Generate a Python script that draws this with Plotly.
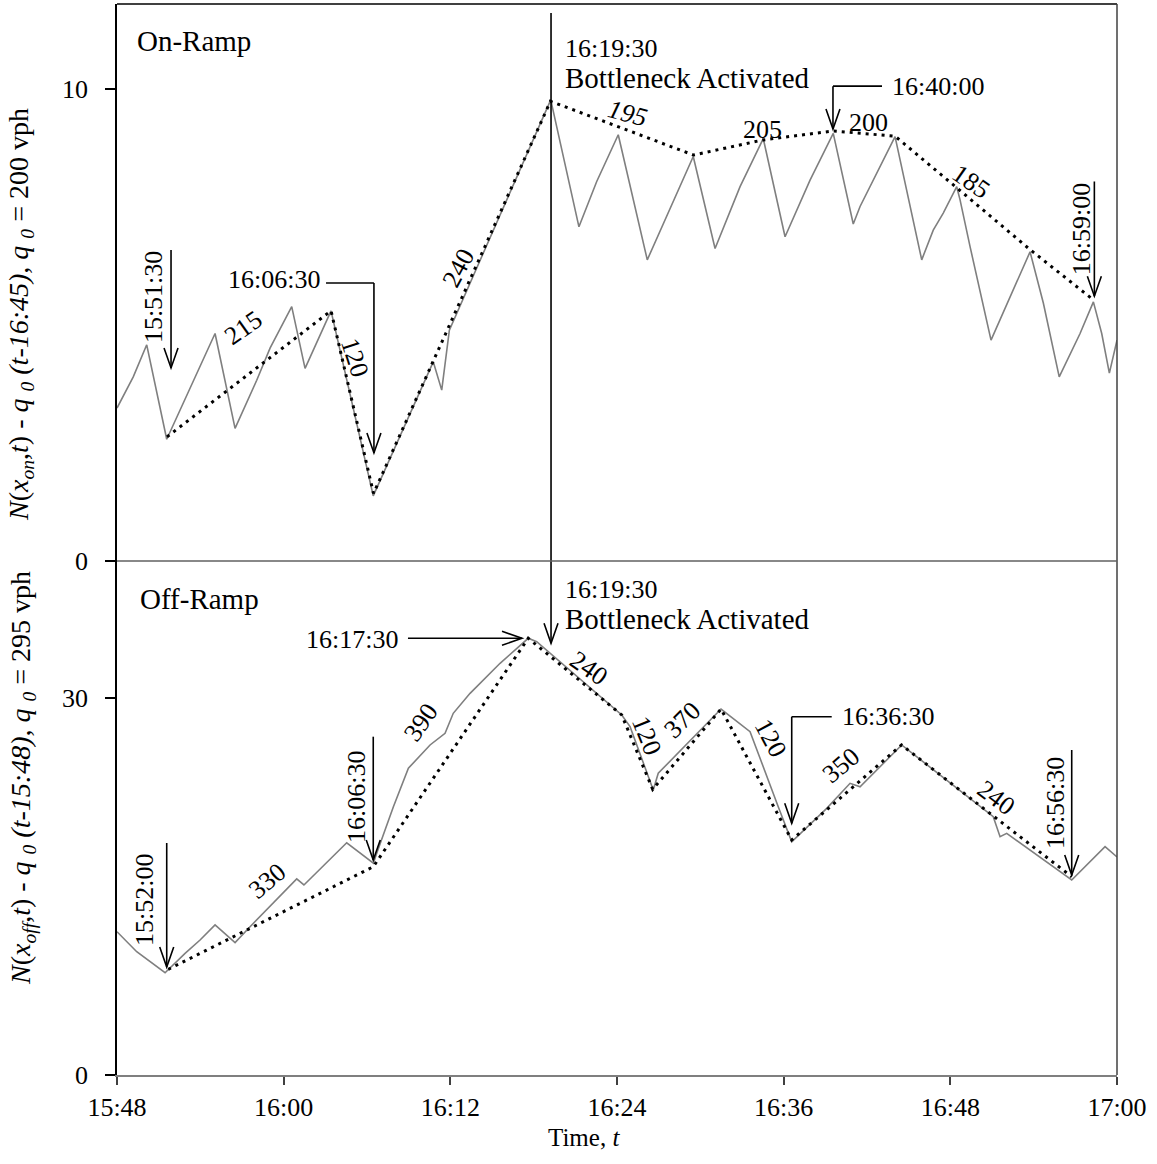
import plotly.graph_objects as go

FONT = "Liberation Serif, Times New Roman, serif"

# ---- axis ticks (x = minutes after 15:48) ----
tick_vals = [0, 12, 24, 36, 48, 60, 72]
tick_text = ["15:48", "16:00", "16:12", "16:24", "16:36", "16:48", "17:00"]

# ---- On-ramp (top panel) ----
on_gray_t = [0.0, 1.17, 2.14, 3.58, 7.06, 8.50, 10.06, 11.02, 12.58, 13.54, 15.41, 18.45,
             22.77, 23.38, 23.93, 31.23, 33.26, 34.54, 36.09, 38.18, 41.49, 43.06, 44.86,
             46.53, 48.10, 49.90, 51.57, 53.01, 53.50, 54.70, 56.02, 57.94, 58.77, 59.49,
             60.46, 60.70, 61.42, 62.93, 64.30, 65.74, 66.70, 67.84, 69.34, 70.30, 70.90,
             71.45, 72.0]
on_gray_v = [3.24, 3.90, 4.58, 2.58, 4.82, 2.81, 3.83, 4.51, 5.39, 4.08, 5.30, 1.38,
             4.22, 3.62, 4.89, 9.77, 7.08, 8.04, 9.03, 6.38, 8.57, 6.62, 7.93,
             8.95, 6.87, 8.07, 9.06, 7.14, 7.51, 8.21, 8.99, 6.38, 7.01, 7.37,
             7.93, 7.65, 6.66, 4.68, 5.60, 6.55, 5.46, 3.90, 4.82, 5.49, 4.82,
             3.98, 4.68]
on_dot_t = [3.60, 15.41, 18.47, 31.21, 41.51, 46.51, 51.55, 56.02, 60.45, 65.77, 70.31]
on_dot_v = [2.63, 5.30, 1.43, 9.74, 8.60, 8.92, 9.11, 9.00, 7.91, 6.59, 5.53]

# ---- Off-ramp (bottom panel) ----
off_gray_t = [0.0, 1.42, 3.46, 4.90, 5.98, 7.06, 8.50, 9.58, 12.94, 13.46, 16.54, 18.46,
              18.70, 19.90, 20.98, 22.54, 23.62, 24.21, 25.42, 27.58, 29.61, 30.22, 36.34,
              36.94, 38.61, 38.97, 43.49, 45.58, 47.61, 48.58, 51.10, 52.78, 53.50, 56.50,
              63.09, 63.58, 64.06, 68.74, 71.14, 72.0]
off_gray_v = [11.40, 9.81, 8.14, 9.68, 10.74, 11.94, 10.53, 11.80, 15.60, 15.12, 18.48, 16.85,
              17.64, 21.35, 24.41, 26.26, 27.19, 28.78, 30.37, 32.76, 34.75, 34.48, 28.65,
              27.72, 22.68, 24.01, 29.12, 27.32, 21.35, 18.56, 21.22, 23.21, 22.94, 26.26,
              20.55, 18.96, 19.23, 15.52, 18.17, 17.35]
off_dot_t = [3.69, 18.45, 29.61, 36.34, 38.57, 43.49, 48.58, 56.49, 68.74]
off_dot_v = [8.41, 16.57, 34.75, 28.65, 22.73, 29.12, 18.70, 26.26, 15.78]

# ---- annotation geometry (data units) ----
on_arrows = [(3.89, 6.59, 4.09), (18.50, 5.89, 2.29), (51.55, 10.06, 9.15), (70.37, 8.04, 5.61)]
on_leaders = [(15.05, 18.50, 5.89), (55.08, 51.55, 10.06)]
off_arrows = [(3.58, 18.46, 8.59), (18.45, 26.92, 17.11), (48.58, 28.51, 20.03), (68.74, 25.86, 15.91)]
off_leaders = [(51.46, 48.58, 28.51)]
off_right_arrow = (20.95, 29.16, 34.75)
bottleneck_t = 31.25
bottleneck_top_v = 11.61
bottleneck_tip_v = 34.35

# text labels: (text, t, v, panel, angle, xanchor, size)
labels = [
    ("On-Ramp", 1.30, 11.02, "y", 0, "left", 29),
    ("15:51:30", 2.59, 5.59, "y", -90, "center", 26),
    ("16:06:30", 14.76, 5.97, "y", 0, "right", 26),
    ("16:19:30", 32.11, 10.85, "y", 0, "left", 26),
    ("Bottleneck Activated", 32.11, 10.23, "y", 0, "left", 29),
    ("16:40:00", 55.66, 10.06, "y", 0, "left", 26),
    ("16:59:00", 69.41, 7.03, "y", -90, "center", 26),
    ("215", 9.14, 4.94, "y", -35, "center", 26),
    ("120", 17.14, 4.32, "y", 72, "center", 26),
    ("240", 24.62, 6.21, "y", -62, "center", 26),
    ("<i>195</i>", 36.79, 9.47, "y", 15, "center", 26),
    ("205", 46.51, 9.15, "y", 0, "center", 26),
    ("200", 54.14, 9.30, "y", 0, "center", 26),
    ("185", 61.49, 8.05, "y", 35, "center", 26),
    ("Off-Ramp", 1.51, 37.87, "y2", 0, "left", 29),
    ("16:17:30", 20.38, 34.69, "y2", 0, "right", 26),
    ("16:19:30", 32.11, 38.67, "y2", 0, "left", 26),
    ("Bottleneck Activated", 32.11, 36.29, "y2", 0, "left", 29),
    ("240", 33.98, 32.31, "y2", 35, "center", 26),
    ("120", 38.16, 27.05, "y2", 68, "center", 26),
    ("370", 40.75, 28.25, "y2", -45, "center", 26),
    ("120", 47.02, 26.82, "y2", 62, "center", 26),
    ("16:36:30", 52.06, 28.49, "y2", 0, "left", 26),
    ("350", 52.13, 24.59, "y2", -40, "center", 26),
    ("240", 63.29, 22.12, "y2", 37, "center", 26),
    ("16:56:30", 67.54, 21.64, "y2", -90, "center", 26),
    ("390", 21.89, 28.01, "y2", -55, "center", 26),
    ("16:06:30", 17.21, 22.12, "y2", -90, "center", 26),
    ("330", 10.87, 15.44, "y2", -40, "center", 26),
    ("15:52:00", 2.02, 13.93, "y2", -90, "center", 26),
]

# ---- layout constants ----
W, H = 1157, 1164
ML, MR, MT, MB = 117, 40, 4, 89
PW = W - ML - MR
PH = H - MT - MB
split = 514 / PH
X_RANGE = [0, 72]
Y1_RANGE = [0, 11.80]
Y2_RANGE = [0, 40.90]

px_per_min = PW / (X_RANGE[1] - X_RANGE[0])
px_per_u1 = PH * (1 - split) / (Y1_RANGE[1] - Y1_RANGE[0])
px_per_u2 = PH * split / (Y2_RANGE[1] - Y2_RANGE[0])
ppu = {"y": px_per_u1, "y2": px_per_u2}

fig = go.Figure()
fig.add_trace(go.Scatter(x=on_gray_t, y=on_gray_v, mode="lines", yaxis="y",
                         line=dict(color="#7f7f7f", width=1.6)))
fig.add_trace(go.Scatter(x=on_dot_t, y=on_dot_v, mode="lines", yaxis="y",
                         line=dict(color="black", width=3, dash="3px,5px")))
fig.add_trace(go.Scatter(x=off_gray_t, y=off_gray_v, mode="lines", yaxis="y2",
                         line=dict(color="#7f7f7f", width=1.6)))
fig.add_trace(go.Scatter(x=off_dot_t, y=off_dot_v, mode="lines", yaxis="y2",
                         line=dict(color="black", width=3, dash="3px,5px")))

shapes = []
LW = 1.6


def seg(x0, y0, x1, y1, yref):
    shapes.append(dict(type="line", xref="x", yref=yref, x0=x0, y0=y0, x1=x1, y1=y1,
                       line=dict(color="black", width=LW)))


def vhead(t, v, direction, yref, half=7, length=20):
    dx_h = half / px_per_min
    dx_l = length / px_per_min
    dy_h = half / ppu[yref]
    dy_l = length / ppu[yref]
    if direction == "down":
        pts = [(t - dx_h, v + dy_l), (t, v), (t + dx_h, v + dy_l)]
    else:
        pts = [(t - dx_l, v + dy_h), (t, v), (t - dx_l, v - dy_h)]
    path = "M {} {} L {} {} L {} {}".format(*[c for p in pts for c in p])
    shapes.append(dict(type="path", xref="x", yref=yref, path=path,
                       line=dict(color="black", width=LW)))


for t, v0, v1 in on_arrows:
    seg(t, v0, t, v1, "y")
    vhead(t, v1, "down", "y")
for t0, t1, v in on_leaders:
    seg(t0, v, t1, v, "y")
for t, v0, v1 in off_arrows:
    seg(t, v0, t, v1, "y2")
    vhead(t, v1, "down", "y2")
for t0, t1, v in off_leaders:
    seg(t0, v, t1, v, "y2")
t0, t1, v = off_right_arrow
seg(t0, v, t1, v, "y2")
vhead(t1, v, "right", "y2")

# bottleneck line through both panels
seg(bottleneck_t, bottleneck_top_v, bottleneck_t, Y1_RANGE[0], "y")
seg(bottleneck_t, Y2_RANGE[1], bottleneck_t, bottleneck_tip_v, "y2")
vhead(bottleneck_t, bottleneck_tip_v, "down", "y2")

# frame
shapes.append(dict(type="line", xref="paper", yref="paper", x0=0, x1=1, y0=1, y1=1,
                   line=dict(color="black", width=1.5)))
shapes.append(dict(type="line", xref="paper", yref="paper", x0=1, x1=1, y0=0, y1=1,
                   line=dict(color="#404040", width=1.5)))
shapes.append(dict(type="line", xref="paper", yref="paper", x0=0, x1=1, y0=split, y1=split,
                   line=dict(color="#606060", width=1.5)))

annotations = []
for text, t, v, yref, ang, xa, sz in labels:
    annotations.append(dict(text=text, x=t, y=v, xref="x", yref=yref, showarrow=False,
                            textangle=ang, xanchor=xa, yanchor="middle",
                            font=dict(family=FONT, size=sz, color="black")))

annotations.append(dict(
    text="<i>N</i>(<i>x<sub>on</sub></i>,<i>t</i>) - <i>q</i> <sub><i>0</i></sub> <i>(t-16:45), q</i> <sub><i>0</i></sub> = 200 vph",
    x=(21 - ML) / PW, y=(H - MB - 315) / PH, xref="paper", yref="paper", showarrow=False,
    textangle=-90, xanchor="center", yanchor="middle",
    font=dict(family=FONT, size=28, color="black")))
annotations.append(dict(
    text="<i>N</i>(<i>x<sub>off</sub></i>,<i>t</i>) - <i>q</i> <sub><i>0</i></sub> <i>(t-15:48), q</i> <sub><i>0</i></sub> = 295 vph",
    x=(22 - ML) / PW, y=(H - MB - 778) / PH, xref="paper", yref="paper", showarrow=False,
    textangle=-90, xanchor="center", yanchor="middle",
    font=dict(family=FONT, size=28, color="black")))
annotations.append(dict(
    text="Time, <i>t</i>", x=(584 - ML) / PW, y=(H - MB - 1137) / PH, xref="paper", yref="paper",
    showarrow=False, xanchor="center", yanchor="middle",
    font=dict(family=FONT, size=25, color="black")))

fig.update_layout(
    width=W, height=H,
    margin=dict(l=ML, r=MR, t=MT, b=MB),
    paper_bgcolor="white", plot_bgcolor="white",
    showlegend=False,
    font=dict(family=FONT, size=26, color="black"),
    xaxis=dict(range=X_RANGE, tickvals=tick_vals, ticktext=tick_text, anchor="y2",
               showline=True, linecolor="#7f7f7f", linewidth=2, ticks="outside",
               ticklen=8, tickcolor="#404040", tickwidth=1.5, showgrid=False, zeroline=False,
               ticklabelstandoff=0, tickfont=dict(family=FONT, size=26)),
    yaxis=dict(domain=[split, 1], range=Y1_RANGE, tickvals=[0, 10], anchor="x",
               showline=True, linecolor="black", linewidth=1.5, ticks="outside",
               ticklen=10, tickcolor="black", tickwidth=1.5, showgrid=False, zeroline=False,
               ticklabelstandoff=12, tickfont=dict(family=FONT, size=26)),
    yaxis2=dict(domain=[0, split], range=Y2_RANGE, tickvals=[0, 30], anchor="x",
                showline=True, linecolor="black", linewidth=1.5, ticks="outside",
                ticklen=10, tickcolor="black", tickwidth=1.5, showgrid=False, zeroline=False,
                ticklabelstandoff=12, tickfont=dict(family=FONT, size=26)),
    shapes=shapes,
    annotations=annotations,
)

fig.write_html("out.html", config={"displayModeBar": False},
               post_script="document.body.style.margin='0px';")
